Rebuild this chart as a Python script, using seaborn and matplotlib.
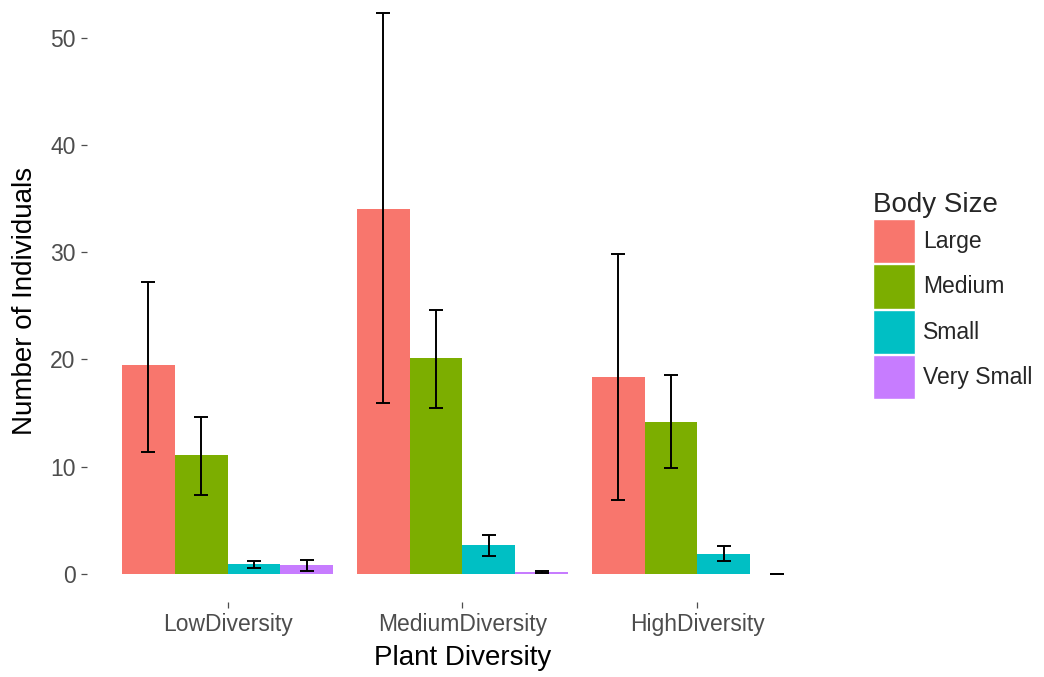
import numpy as np
import pandas as pd
import matplotlib
matplotlib.use("Agg")
import matplotlib.pyplot as plt
import seaborn as sns
from matplotlib.patches import Patch

# data
diversity = ["LowDiversity", "MediumDiversity", "HighDiversity"]
body_size = ["Large", "Medium", "Small", "Very Small"]
mean_large = [19.5, 34.0, 18.4]
mean_medium = [11.1, 20.1, 14.2]
mean_small = [0.9, 2.7, 1.9]
mean_vsmall = [0.8, 0.2, 0.0]
lo_large = [11.4, 15.9, 6.9]
hi_large = [27.2, 52.3, 29.8]
lo_medium = [7.4, 15.5, 9.9]
hi_medium = [14.6, 24.6, 18.5]
lo_small = [0.6, 1.7, 1.2]
hi_small = [1.2, 3.6, 2.6]
lo_vsmall = [0.3, 0.12, 0.0]
hi_vsmall = [1.3, 0.28, 0.0]

colors = ["#F8766D", "#7CAE00", "#00BFC4", "#C77CFF"]

means = [mean_large, mean_medium, mean_small, mean_vsmall]
los = [lo_large, lo_medium, lo_small, lo_vsmall]
his = [hi_large, hi_medium, hi_small, hi_vsmall]

rows = []
for s, m, l, h in zip(body_size, means, los, his):
    for d, mv, lv, hv in zip(diversity, m, l, h):
        rows.append({"Plant Diversity": d, "Body Size": s, "n": mv, "lo": lv, "hi": hv})
df = pd.DataFrame(rows)

sns.set_style("white")
plt.rcParams["font.family"] = ["Liberation Sans", "DejaVu Sans"]

fig = plt.figure(figsize=(10.44, 6.77), dpi=100)
ax = fig.add_axes([0.083, 0.111, 0.72, 0.889])

sns.barplot(data=df, x="Plant Diversity", y="n", hue="Body Size",
            order=diversity, hue_order=body_size, palette=colors,
            width=0.9, errorbar=None, saturation=1, linewidth=0, ax=ax)

# error bars at the bar centres
k = 0
for s in body_size:
    sub = df[df["Body Size"] == s].set_index("Plant Diversity").loc[diversity]
    for i, d in enumerate(diversity):
        bar = ax.patches[k]
        k += 1
        xc = bar.get_x() + bar.get_width() / 2
        ax.errorbar(xc, sub.loc[d, "n"],
                    yerr=[[sub.loc[d, "n"] - sub.loc[d, "lo"]], [sub.loc[d, "hi"] - sub.loc[d, "n"]]],
                    fmt="none", ecolor="black", elinewidth=1.4, capsize=5, capthick=1.4)

ax.set_xlim(-0.6, 2.6)
ax.set_ylim(-2.6, 53.5)
ax.set_yticks([0, 10, 20, 30, 40, 50])
for sp in ax.spines.values():
    sp.set_visible(False)
ax.grid(False)
ax.tick_params(axis="both", colors="#4D4D4D", labelsize=16.5, length=4, width=0.9,
               direction="out", left=True, bottom=True, pad=4)
ax.set_xlabel("Plant Diversity", fontsize=20, color="black", labelpad=6.5)
ax.set_ylabel("Number of Individuals", fontsize=20, color="black", labelpad=9)

ax.get_legend().remove()
handles = [Patch(facecolor=c, edgecolor="white", linewidth=1) for c in colors]
fig.legend(handles, body_size, title="Body Size", loc="upper left",
           bbox_to_anchor=(0.8257, 0.734), frameon=False, fontsize=16.5,
           title_fontsize=20, handlelength=1.83, handleheight=2.6,
           labelspacing=0.05, handletextpad=0.35, borderpad=0,
           alignment="left")

fig.savefig("out.png", dpi=100)
